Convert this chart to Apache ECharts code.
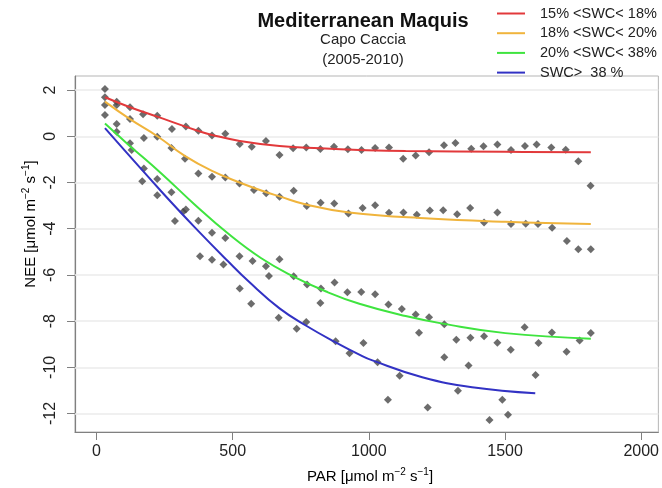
<!DOCTYPE html>
<html>
<head>
<meta charset="utf-8">
<script src="https://cdn.jsdelivr.net/npm/echarts@6/dist/echarts.min.js"></script>
<style>
html,body{margin:0;padding:0;background:#fff;}
#chart{width:662px;height:488px;}
</style>
</head>
<body>
<div id="chart"></div>
<script>
// ---- tick labels ----
var xTicks = [0, 500, 1000, 1500, 2000];
var yTicks = [-12, -10, -8, -6, -4, -2, 0, 2];

// ---- legend / class names ----
var classNames = ['15% <SWC< 18%', '18% <SWC< 20%', '20% <SWC< 38%', 'SWC>  38 %'];
var classColors = ['#e2393b', '#f0b43c', '#3fe43f', '#3232c4'];

// ---- observed points (PAR, NEE) ----
var pointsDry = [[31,2.05],[31,1.69],[74,1.50],[74,1.36],[123,1.26],[171,0.95],[223,0.89],[277,0.32],[328,0.42],[374,0.24],[424,0.03],[473,0.11],[526,-0.33],[570,-0.45],[622,-0.20],[672,-0.81],[722,-0.52],[770,-0.48],[822,-0.55],[872,-0.45],[923,-0.56],[973,-0.59],[1023,-0.51],[1074,-0.48],[1126,-0.97],[1172,-0.83],[1221,-0.69],[1276,-0.39],[1318,-0.29],[1376,-0.54],[1421,-0.43],[1472,-0.35],[1522,-0.59],[1573,-0.42],[1616,-0.35],[1670,-0.48],[1723,-0.58],[1769,-1.08],[1814,-2.14]];
var pointsMid = [[31,1.36],[123,0.75],[174,-0.07],[223,-0.02],[275,-0.51],[325,-0.97],[374,-1.61],[424,-1.75],[473,-1.78],[525,-2.04],[578,-2.33],[623,-2.47],[672,-2.62],[724,-2.36],[772,-3.02],[823,-2.88],[873,-2.91],[925,-3.34],[977,-3.10],[1023,-2.98],[1074,-3.31],[1127,-3.30],[1176,-3.40],[1224,-3.21],[1273,-3.20],[1324,-3.37],[1372,-3.10],[1423,-3.73],[1472,-3.30],[1522,-3.80],[1576,-3.79],[1621,-3.80],[1673,-3.96],[1727,-4.53],[1769,-4.89],[1815,-4.89]];
var pointsWet = [[31,0.92],[74,0.53],[74,0.20],[123,-0.30],[129,-0.59],[174,-1.39],[168,-1.95],[223,-1.85],[223,-2.55],[275,-2.42],[318,-3.27],[328,-3.17],[288,-3.67],[374,-3.66],[424,-4.18],[473,-4.40],[380,-5.19],[424,-5.34],[466,-5.55],[525,-5.19],[573,-5.40],[622,-5.63],[672,-5.32],[526,-6.59],[633,-6.05],[568,-7.25],[724,-6.06],[773,-6.42],[824,-6.59],[822,-7.22],[874,-6.33],[921,-6.75],[669,-7.85],[735,-8.33],[770,-8.04],[878,-8.87],[929,-9.39],[972,-6.74],[1023,-6.84],[1072,-7.28],[1121,-7.48],[1172,-7.71],[1221,-7.83],[1277,-8.14],[1184,-8.50],[980,-8.95],[1032,-9.78],[1113,-10.36],[1070,-11.40],[1216,-11.74],[1277,-9.56],[1321,-8.81],[1327,-11.01],[1366,-9.92],[1373,-8.72],[1423,-8.66],[1472,-8.94],[1490,-11.40],[1443,-12.28],[1511,-12.05],[1521,-9.24],[1572,-8.27],[1612,-10.33],[1623,-8.95],[1672,-8.49],[1726,-9.33],[1774,-8.84],[1815,-8.52]];

// ---- fitted curves ----
var curve1 = [[31,1.69],[123,1.26],[223,0.85],[374,0.23],[424,0.06],[526,-0.20],[672,-0.42],[822,-0.52],[965,-0.59],[1135,-0.64],[1501,-0.67],[1815,-0.69]];
var curve2 = [[31,1.5],[123,0.74],[226,-0.02],[324,-0.85],[424,-1.5],[525,-2.0],[623,-2.42],[672,-2.6],[769,-2.95],[928,-3.3],[1221,-3.56],[1501,-3.70],[1815,-3.80]];
var curve3 = [[31,0.55],[116,-0.35],[239,-1.62],[360,-2.95],[482,-4.2],[605,-5.28],[720,-6.05],[843,-6.72],[965,-7.25],[1135,-7.78],[1276,-8.12],[1501,-8.52],[1815,-8.76]];
var curve4 = [[31,0.35],[239,-2.4],[360,-3.93],[482,-5.4],[560,-6.3],[672,-7.45],[770,-8.2],[878,-8.92],[965,-9.45],[1013,-9.7],[1196,-10.43],[1379,-10.86],[1611,-11.12]];

var FONT = "'Liberation Sans', Arial, Helvetica, sans-serif";
var chart = echarts.init(document.getElementById('chart'), null, {renderer: 'canvas'});

var curves = [curve1, curve2, curve3, curve4];
var series = [];
var scatterStyle = {color: '#474747'};
[pointsDry, pointsMid, pointsWet].forEach(function (pts, i) {
  var s = {
    type: 'scatter', data: pts, symbol: 'diamond', symbolSize: 8,
    itemStyle: scatterStyle, z: 3, silent: true
  };
  if (i === 0) {
    s.markLine = {
      silent: true, symbol: ['none', 'none'], label: {show: false},
      lineStyle: {color: '#ebebeb', width: 1.5, type: 'solid'},
      data: yTicks.map(function (v) { return {yAxis: v}; }),
      z: 1
    };
  }
  series.push(s);
});
curves.forEach(function (c, i) {
  series.push({
    type: 'line', name: classNames[i], data: c, smooth: 0.45, showSymbol: false,
    lineStyle: {color: classColors[i], width: 2}, itemStyle: {color: classColors[i]}, z: 4, silent: true
  });
});

var sup = {fontSize: 10, fontFamily: FONT, color: '#222', verticalAlign: 'top', lineHeight: 10};
var reg = {fontSize: 15, fontFamily: FONT, color: '#222', lineHeight: 20};

chart.setOption({
  animation: false,
  textStyle: {fontFamily: FONT},
  title: {
    text: 'Mediterranean Maquis',
    subtext: 'Capo Caccia\n(2005-2010)',
    left: 363, top: 10, textAlign: 'center', itemGap: -2, padding: 0,
    textStyle: {fontSize: 20, fontWeight: 'bold', color: '#111', lineHeight: 22, fontFamily: FONT},
    subtextStyle: {fontSize: 15, color: '#222', lineHeight: 20, fontFamily: FONT}
  },
  legend: {
    data: classNames, orient: 'vertical', left: 497, top: 6, padding: 0,
    itemWidth: 28, itemHeight: 2, icon: 'rect', itemGap: 4.7,
    textStyle: {fontSize: 14.5, color: '#222', lineHeight: 14, padding: [0, 0, 0, 10], fontFamily: FONT}
  },
  grid: {left: 75, top: 76, width: 585, height: 356, show: true, borderColor: '#b5b5b5', borderWidth: 1, containLabel: false},
  xAxis: {
    type: 'value', min: -79, max: 2063,
    axisLine: {show: true, onZero: false, lineStyle: {color: '#808080', width: 1.2}},
    axisTick: {show: true, length: 8, inside: false, customValues: xTicks, lineStyle: {color: '#808080'}},
    axisLabel: {customValues: xTicks, fontSize: 16, color: '#222', margin: 12, formatter: function (v) { return String(v); }},
    splitLine: {show: false}
  },
  yAxis: {
    type: 'value', min: -12.8, max: 2.61,
    axisLine: {show: true, onZero: false, lineStyle: {color: '#808080', width: 1.2}},
    axisTick: {show: true, length: 8, inside: false, customValues: yTicks, lineStyle: {color: '#808080'}},
    axisLabel: {customValues: yTicks, fontSize: 16, color: '#222', margin: 16, rotate: 90, formatter: function (v) { return String(v); }},
    splitLine: {show: false}
  },
  graphic: [
    {type: 'text', x: 370, y: 477, style: {
      text: '{r|PAR [μmol m}{s|−2}{r| s}{s|−1}{r|]}', rich: {r: reg, s: sup},
      align: 'center', verticalAlign: 'middle'}},
    {type: 'text', x: 31, y: 224, rotation: Math.PI / 2, style: {
      text: '{r|NEE [μmol m}{s|−2}{r| s}{s|−1}{r|]}', rich: {r: reg, s: sup},
      align: 'center', verticalAlign: 'middle'}}
  ],
  series: series
});
</script>
</body>
</html>
